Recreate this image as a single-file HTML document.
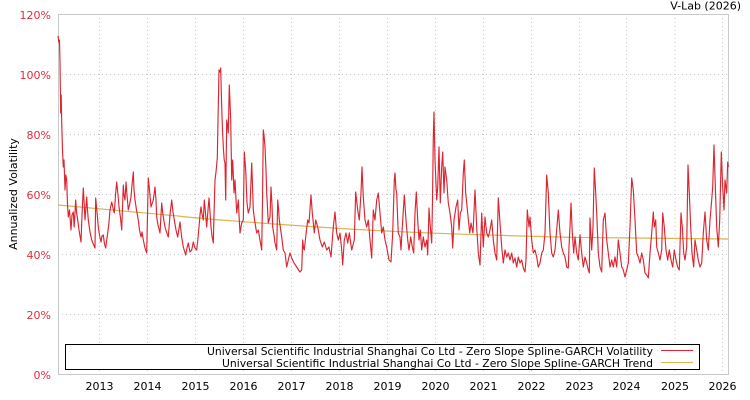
<!DOCTYPE html>
<html><head><meta charset="utf-8"><style>
html,body{margin:0;padding:0;background:#fff;}
svg{display:block;font-family:"DejaVu Sans","Liberation Sans",sans-serif;}
</style></head><body>
<svg width="750" height="400" viewBox="0 0 750 400" xmlns="http://www.w3.org/2000/svg">
<rect x="0" y="0" width="750" height="400" fill="#fff"/>
<g stroke="#c8c8c8" stroke-width="1" stroke-dasharray="1,3" fill="none">
<line x1="58" y1="74.5" x2="728" y2="74.5"/>
<line x1="58" y1="134.5" x2="728" y2="134.5"/>
<line x1="58" y1="194.5" x2="728" y2="194.5"/>
<line x1="58" y1="254.5" x2="728" y2="254.5"/>
<line x1="58" y1="314.5" x2="728" y2="314.5"/>
<line x1="99.5" y1="14" x2="99.5" y2="374"/>
<line x1="147.5" y1="14" x2="147.5" y2="374"/>
<line x1="195.5" y1="14" x2="195.5" y2="374"/>
<line x1="243.5" y1="14" x2="243.5" y2="374"/>
<line x1="291.5" y1="14" x2="291.5" y2="374"/>
<line x1="339.5" y1="14" x2="339.5" y2="374"/>
<line x1="387.5" y1="14" x2="387.5" y2="374"/>
<line x1="435.5" y1="14" x2="435.5" y2="374"/>
<line x1="483.5" y1="14" x2="483.5" y2="374"/>
<line x1="531.5" y1="14" x2="531.5" y2="374"/>
<line x1="579.5" y1="14" x2="579.5" y2="374"/>
<line x1="626.5" y1="14" x2="626.5" y2="374"/>
<line x1="675" y1="14" x2="675" y2="374"/>
<line x1="722.5" y1="14" x2="722.5" y2="374"/>
</g>
<rect x="58.5" y="14.5" width="670" height="360" fill="none" stroke="#c8c8c8" stroke-width="1"/>
<path d="M58,205 C100,209 141,212.7 141.7,212.7 C180,216 200,218.5 230,220.7 C300,226 350,229.5 400,231.7 C460,234.5 520,236 570,237.3 C640,238.5 700,239 728,239" fill="none" stroke="#dcb450" stroke-width="1.2"/>
<polyline fill="none" stroke="#dc2530" stroke-width="1.15" stroke-linejoin="round" points="58,36 58.8,42 59.5,40 60,63 60.5,100 60.7,113 61.2,95 61.8,126 62.5,150 63.3,167 64,160 65,190 65.8,175 66.7,180 67.5,205 68.3,217 69.5,210 71,230 72,215 73.3,212 74.2,227 75.7,200 76.5,212 77.7,220 79,230 80,236 81,242 82,215 83.3,188 84,200 85,220 86.7,197 87.5,210 88.3,220 90,232 91.7,240 93.3,244 95,248 95.7,198 97,212 98.3,227 99.5,235 101,242 102,236 103.3,235 104.5,244 105.7,248 106.7,240 107.7,233 109,222 110,210 111.7,202 113,208 114.3,213 115.5,195 116.7,182 118,195 119,207 120.5,218 121.7,230 123.3,185 124,195 125,200 126,182 127,195 128.3,210 129.5,205 131,197 132,185 133.3,172 134,190 135,200 136.5,210 138.3,220 139.5,230 141,237 142,232 143.3,240 145,248 146.7,253 148.3,178 149.5,190 151,207 152,204 153.3,200 154,195 155,187 156,200 156.7,217 158,225 160,233 161.7,203 163,215 165,227 166.5,232 168.3,237 170,215 171.7,200 173,212 174.3,220 176,230 177.7,237 180,222 181.5,236 183.3,247 185.7,255 187,248 188.3,243 190,252 191.7,250 193.3,242 195,248 196.7,250 198,238 199,227 200,215 201,207 202,214 203.3,220 204.3,200 205.5,213 206.7,227 208,210 209,198 210,212 211,227 212,236 213.3,243 214,215 215,180 216,172 217.3,158 218,120 219,70 220,72 220.7,68 221.7,107 222.5,130 223.3,147 224.2,160 225,163 225.7,200 226.7,120 227.5,125 228.3,133 229.3,85 230.7,120 231.7,180 232.7,160 234,193 235,180 236.7,213 238.3,200 239,215 240,233 241.7,223 243.3,220 244.3,152 245.7,170 247,203 248.3,213 250,207 251.7,163 252.5,185 253.3,210 255,223 256.7,233 258.3,230 260,240 261.7,250 262.5,200 263.3,130 264,135 265,147 266,170 266.7,193 268.3,223 270,217 271,187 272,205 272.7,227 274,235 275,243 276.7,250 277.7,200 278.5,208 279.3,220 281.7,237 283.3,250 285,253 286.7,267 288.3,260 290,253 291.7,258 294,263 296.7,267 298,269 300,272 301.7,270 302.7,240 303.5,248 304.3,250 305.7,237 307.7,220 309,223 311,195 312.3,213 314.3,233 315.7,220 317.7,227 320,240 322.3,247 324.3,242 326.7,250 329,247 331,257 333.3,227 335,212 336.7,233 338.3,240 340,233 341.7,250 342.7,265 344.3,240 346,233 347.7,243 349.3,233 351.7,250 354.3,240 355.7,192 357.7,210 359.3,220 361,193 362,167 363.3,197 365,220 366.7,227 368.3,220 370,240 371.7,258 373.3,210 375,220 376.7,200 378.3,193 380,213 381.7,233 383.3,227 385,240 386.7,247 389,260 391,262 392.7,233 394.3,180 395,173 396,190 396.7,193 397.7,220 398.3,233 400,237 401,250 402.3,227 404.3,195 406,220 407.7,240 409,250 410.7,237 412.3,247 413.7,253 415,213 416.3,192 417.7,220 419,240 420.3,230 421.7,250 423.3,237 425,247 426.7,240 427.7,255 429,208 430.3,227 431.7,243 432.5,200 433.3,137 434,112 435,160 436.7,200 437.7,187 439,147 440.3,203 441.7,167 442.7,152 444,193 445,167 446.7,180 448.3,203 450,213 451.7,227 452.7,248 454,220 456,207 457.7,200 459,230 460.3,213 461.7,210 463.3,173 464.3,160 465.7,193 467.7,213 469.7,233 471,223 473,233 475,190 476.7,227 478.3,253 480,265 481.7,213 483.3,247 485,217 486.7,233 488.3,237 490,230 491.7,220 493.3,240 495,253 496.7,260 498.3,198 500,223 501.7,247 503.3,263 505,250 506.7,257 508.3,253 510,260 511.7,253 513.3,263 515,258 516.7,267 518.3,257 520,263 521.7,260 523.3,268 525,272 526,260 527.3,210 529,227 530,217 531.7,240 533.3,253 535,250 536.7,257 538.3,267 540,263 541.7,253 543.3,250 545,233 546.7,175 548.3,193 550,233 551.7,253 553.3,257 555,250 556.7,230 558.3,210 560,233 561.7,247 563.3,253 565,257 566.7,267 568.3,268 569,247 570,227 571,203 572.3,233 573.7,253 575,237 576.7,253 578.3,260 580,235 581.7,253 583.3,267 585,257 586.7,263 588.3,270 589.3,273 590,218 591.7,250 593,227 594.3,168 595.7,193 597,220 598.3,253 600,267 601.7,272 603.3,220 605,213 606.7,240 608.3,253 610,267 611.7,260 613.3,267 615,257 616.7,267 618.3,240 620,253 621.7,267 623.3,270 625,277 626.7,270 628.3,263 630,227 631.7,178 633.3,190 635,220 636.7,253 638.3,257 640,263 641.7,253 643.3,260 645,273 646.7,275 648.3,278 650,253 651.7,233 653.3,212 654.3,227 655.7,220 656.7,247 658.3,253 660,260 661.7,250 662.7,213 664.3,227 666,250 667.7,260 669.3,250 671,260 672.7,267 674.3,250 676,260 677.7,267 679.3,270 681,213 682.3,227 683.7,253 685,260 686.7,247 688,165 689.3,193 690.7,227 692,253 693.7,267 695,240 696.7,250 698.3,260 700,267 701.7,263 703.3,233 705,212 706.7,240 708.3,250 710,220 711.7,200 712.7,187 714,145 715,177 716.7,227 718.3,247 719.7,220 721.3,152 722.7,187 724,210 725,180 726.7,193 727.7,162 728.3,167"/>
<g font-size="11" fill="#dc2e3c" text-anchor="end">
<text x="51" y="19">120%</text>
<text x="51" y="79">100%</text>
<text x="51" y="139">80%</text>
<text x="51" y="199">60%</text>
<text x="51" y="259">40%</text>
<text x="51" y="319">20%</text>
<text x="51" y="379">0%</text>
</g>
<g font-size="11" fill="#000" text-anchor="middle">
<text x="99.5" y="390">2013</text>
<text x="147.5" y="390">2014</text>
<text x="195.5" y="390">2015</text>
<text x="243.5" y="390">2016</text>
<text x="291.5" y="390">2017</text>
<text x="339.5" y="390">2018</text>
<text x="387.5" y="390">2019</text>
<text x="435.5" y="390">2020</text>
<text x="483.5" y="390">2021</text>
<text x="531.5" y="390">2022</text>
<text x="579.5" y="390">2023</text>
<text x="626.5" y="390">2024</text>
<text x="675" y="390">2025</text>
<text x="722.5" y="390">2026</text>
</g>
<text x="741" y="9.5" font-size="11" fill="#000" text-anchor="end">V-Lab (2026)</text>
<text transform="translate(17,194) rotate(-90)" font-size="11" fill="#000" text-anchor="middle">Annualized Volatility</text>
<rect x="65.5" y="344.5" width="634" height="25" fill="#fff" stroke="#000" stroke-width="1"/>
<g font-size="11" fill="#000">
<text x="207" y="355" textLength="446" lengthAdjust="spacingAndGlyphs">Universal Scientific Industrial Shanghai Co Ltd - Zero Slope Spline-GARCH Volatility</text>
<text x="222" y="367" textLength="431" lengthAdjust="spacingAndGlyphs">Universal Scientific Industrial Shanghai Co Ltd - Zero Slope Spline-GARCH Trend</text>
</g>
<line x1="661" y1="350.5" x2="693" y2="350.5" stroke="#dc2530" stroke-width="1"/>
<line x1="661" y1="362.5" x2="693" y2="362.5" stroke="#dcb450" stroke-width="1"/>
</svg>
</body></html>
